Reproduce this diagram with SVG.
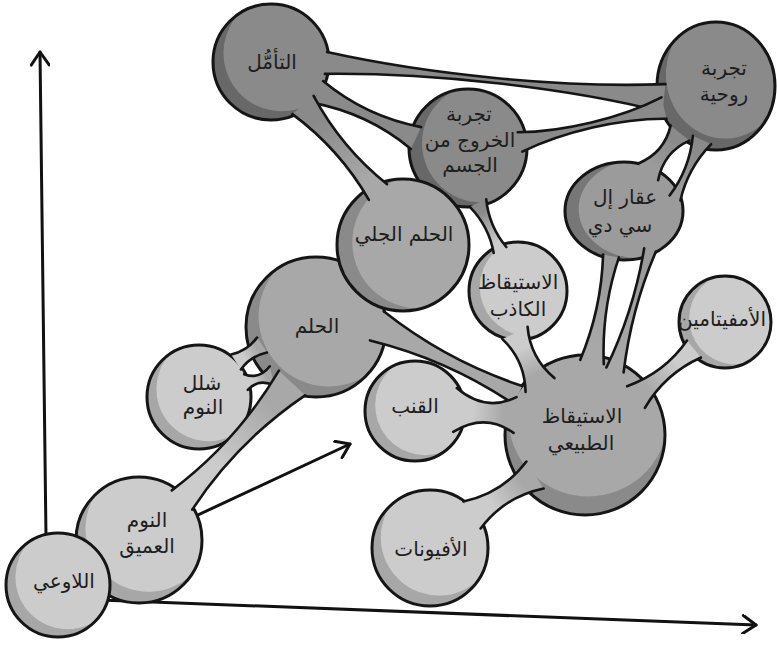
<svg xmlns="http://www.w3.org/2000/svg" width="777" height="646" viewBox="0 0 777 646">
<style>
.ol{fill:none;stroke:#151515;stroke-width:3}
.D .f{fill:#8a8a8a}.D .s{fill:#686868}
.X .f{fill:#9b9b9b}.X .s{fill:#777777}
.M .f{fill:#a8a8a8}.M .s{fill:#8a8a8a}
.L .f{fill:#cccccc}.L .s{fill:#a7a7a7}
text{font-family:"DejaVu Sans",sans-serif;font-size:20px;fill:#1e1e1e;text-anchor:middle}
.side{fill:none;stroke:#151515;stroke-width:2.6;stroke-linecap:round}
.axis{fill:none;stroke:#111111;stroke-width:3;stroke-linecap:round}
.cd{fill:#8a8a8a}.cm{fill:#a8a8a8}
</style>
<defs>
<path id="cres" d="M-0.23-0.973A1 1 0 1 0 0.45 0.893A1 1 0 0 1-0.23-0.973Z"/>
<marker id="chev" viewBox="0 0 20 20" refX="17" refY="10" markerWidth="20" markerHeight="20" markerUnits="userSpaceOnUse" orient="auto"><path d="M4,1 L17,10 L4,19" fill="none" stroke="#111111" stroke-width="3" stroke-linecap="round" stroke-linejoin="round"/></marker>
<linearGradient id="gDM"><stop offset="0.2" stop-color="#8a8a8a"/><stop offset="0.85" stop-color="#a8a8a8"/></linearGradient>
<linearGradient id="gDL"><stop offset="0.2" stop-color="#8a8a8a"/><stop offset="0.85" stop-color="#cccccc"/></linearGradient>
<linearGradient id="gDX"><stop offset="0.2" stop-color="#8a8a8a"/><stop offset="0.85" stop-color="#9b9b9b"/></linearGradient>
<linearGradient id="gXM"><stop offset="0.2" stop-color="#9b9b9b"/><stop offset="0.85" stop-color="#a8a8a8"/></linearGradient>
<linearGradient id="gLM"><stop offset="0.3" stop-color="#cccccc"/><stop offset="0.8" stop-color="#a8a8a8"/></linearGradient>
<linearGradient id="g4" href="#gDM" gradientUnits="userSpaceOnUse" x1="303" y1="105" x2="378" y2="192"/>
<linearGradient id="g5" href="#gDL" gradientUnits="userSpaceOnUse" x1="478" y1="203" x2="500" y2="250"/>
<linearGradient id="g6" href="#gDX" gradientUnits="userSpaceOnUse" x1="680" y1="133" x2="648" y2="172"/>
<linearGradient id="g7" href="#gDX" gradientUnits="userSpaceOnUse" x1="702" y1="140" x2="675" y2="198"/>
<linearGradient id="g8" href="#gXM" gradientUnits="userSpaceOnUse" x1="611" y1="256" x2="592" y2="362"/>
<linearGradient id="g9" href="#gXM" gradientUnits="userSpaceOnUse" x1="650" y1="250" x2="615" y2="370"/>
<linearGradient id="g10" href="#gLM" gradientUnits="userSpaceOnUse" x1="515" y1="333" x2="540" y2="385"/>
<linearGradient id="g12" href="#gLM" gradientUnits="userSpaceOnUse" x1="455" y1="410" x2="515" y2="415"/>
<linearGradient id="g13" href="#gLM" gradientUnits="userSpaceOnUse" x1="694" y1="349" x2="636" y2="397"/>
<linearGradient id="g14" href="#gLM" gradientUnits="userSpaceOnUse" x1="472" y1="515" x2="535" y2="475"/>
<linearGradient id="g15a" href="#gLM" gradientUnits="userSpaceOnUse" x1="236" y1="362" x2="262" y2="345"/>
<linearGradient id="g15b" href="#gLM" gradientUnits="userSpaceOnUse" x1="246" y1="382" x2="272" y2="376"/>
<linearGradient id="g16" href="#gLM" gradientUnits="userSpaceOnUse" x1="182" y1="500" x2="292" y2="383"/>
</defs>
<rect width="777" height="646" fill="#ffffff"/>
<g id="axes">
<path class="axis" marker-end="url(#chev)" d="M46,537 L40,52"/>
<path class="axis" marker-end="url(#chev)" d="M100,600 Q420,611 756,625"/>
<path class="axis" marker-end="url(#chev)" d="M185,521 L350,444"/>
</g>
<g id="n-taammul" class="D">
<circle class="f" cx="271" cy="62" r="58"/>
<use href="#cres" class="s" transform="translate(271 62) scale(58) rotate(-20)"/>
<circle class="ol" cx="271" cy="62" r="58"/>
<text x="272" y="69">التأمُّل</text>
</g>
<g id="n-ruhiya" class="D">
<ellipse class="f" cx="716" cy="86" rx="59" ry="64"/>
<use href="#cres" class="s" transform="translate(716 86) scale(59 64) rotate(-30)"/>
<ellipse class="ol" cx="716" cy="86" rx="59" ry="64"/>
<text x="724" y="75">تجربة</text>
<text x="724" y="101">روحية</text>
</g>
<g id="n-khuruj" class="D">
<circle class="f" cx="468" cy="148" r="59"/>
<use href="#cres" class="s" transform="translate(468 148) scale(59) rotate(0)"/>
<circle class="ol" cx="468" cy="148" r="59"/>
<text x="469" y="121">تجربة</text>
<text x="470" y="147">الخروج من</text>
<text x="470" y="172">الجسم</text>
</g>
<g id="n-lsd" class="X">
<ellipse class="f" cx="624" cy="211" rx="59" ry="49"/>
<use href="#cres" class="s" transform="translate(624 211) scale(59 49) rotate(10)"/>
<ellipse class="ol" cx="624" cy="211" rx="59" ry="49"/>
<text x="625" y="204">عقار إل</text>
<text x="620" y="232">سي دي</text>
</g>
<g id="n-hulm" class="M">
<circle class="f" cx="316" cy="327" r="70"/>
<use href="#cres" class="s" transform="translate(316 327) scale(70) rotate(-20)"/>
<circle class="ol" cx="316" cy="327" r="70"/>
<text x="317" y="333">الحلم</text>
</g>
<g id="n-jali" class="M">
<circle class="f" cx="403" cy="245" r="66"/>
<use href="#cres" class="s" transform="translate(403 245) scale(66) rotate(10)"/>
<circle class="ol" cx="403" cy="245" r="66"/>
<text x="404" y="241">الحلم الجلي</text>
</g>
<g id="n-kadhib" class="L">
<circle class="f" cx="518" cy="291" r="49"/>
<use href="#cres" class="s" transform="translate(518 291) scale(49) rotate(0)"/>
<circle class="ol" cx="518" cy="291" r="49"/>
<text x="518" y="289">الاستيقاظ</text>
<text x="518" y="316">الكاذب</text>
</g>
<g id="n-shalal" class="L">
<circle class="f" cx="199" cy="397" r="52"/>
<use href="#cres" class="s" transform="translate(199 397) scale(52) rotate(-20)"/>
<circle class="ol" cx="199" cy="397" r="52"/>
<text x="202" y="390">شلل</text>
<text x="203" y="414">النوم</text>
</g>
<g id="n-qinnab" class="L">
<circle class="f" cx="415" cy="411" r="50"/>
<use href="#cres" class="s" transform="translate(415 411) scale(50) rotate(-10)"/>
<circle class="ol" cx="415" cy="411" r="50"/>
<text x="415" y="413">القنب</text>
</g>
<g id="n-tabii" class="M">
<circle class="f" cx="585" cy="435" r="80"/>
<use href="#cres" class="s" transform="translate(585 435) scale(80) rotate(-60)"/>
<circle class="ol" cx="585" cy="435" r="80"/>
<text x="582" y="423">الاستيقاظ</text>
<text x="581" y="450">الطبيعي</text>
</g>
<g id="n-amfi" class="L">
<circle class="f" cx="725" cy="322" r="46"/>
<use href="#cres" class="s" transform="translate(725 322) scale(46) rotate(0)"/>
<circle class="ol" cx="725" cy="322" r="46"/>
<text x="722" y="326">الأمفيتامين</text>
</g>
<g id="n-afyun" class="L">
<circle class="f" cx="430" cy="548" r="58"/>
<use href="#cres" class="s" transform="translate(430 548) scale(58) rotate(-30)"/>
<circle class="ol" cx="430" cy="548" r="58"/>
<text x="431" y="556">الأفيونات</text>
</g>
<g id="n-amiq" class="L">
<circle class="f" cx="139" cy="540" r="63"/>
<use href="#cres" class="s" transform="translate(139 540) scale(63) rotate(-30)"/>
<circle class="ol" cx="139" cy="540" r="63"/>
<text x="147" y="527">النوم</text>
<text x="147" y="553">العميق</text>
</g>
<g id="n-lawai" class="L">
<circle class="f" cx="58" cy="585" r="52"/>
<use href="#cres" class="s" transform="translate(58 585) scale(52) rotate(-20)"/>
<circle class="ol" cx="58" cy="585" r="52"/>
<text x="64" y="588">اللاوعي</text>
</g>
<g id="connectors">
<g id="c-taammul-ruhiya"><path class="cd" d="M324.9,73.9 C427.5,72.7 562.7,86.7 662.6,111.9 L665.4,84.1 C562.5,88.3 427.3,74.3 327.1,52.1 Z"/><path class="side" d="M324.9,73.9 C427.5,72.7 562.7,86.7 662.6,111.9 M665.4,84.1 C562.5,88.3 427.3,74.3 327.1,52.1"/></g>
<g id="c-khuruj-ruhiya"><path class="cd" d="M522.3,151.7 C563.2,131.8 620.8,118.2 666.5,118.7 L661.5,97.3 C620.8,118.2 563.2,131.8 517.7,132.3 Z"/><path class="side" d="M522.3,151.7 C563.2,131.8 620.8,118.2 666.5,118.7 M661.5,97.3 C620.8,118.2 563.2,131.8 517.7,132.3"/></g>
<g id="c-taammul-khuruj"><path class="cd" d="M312.9,102.9 Q367.85,113.2 410.9,148.9 L421.1,127.1 Q366.15,116.8 323.1,81.1 Z"/><path class="side" d="M312.9,102.9 Q367.85,113.2 410.9,148.9 M421.1,127.1 Q366.15,116.8 323.1,81.1"/></g>
<g id="c-taammul-jali"><path fill="url(#g4)" d="M292.4,114.1 Q339.7,149.2 368.9,199.8 L387.1,184.2 Q341.3,147.8 313.6,95.9 Z"/><path class="side" d="M292.4,114.1 Q339.7,149.2 368.9,199.8 M387.1,184.2 Q341.3,147.8 313.6,95.9"/></g>
<g id="c-khuruj-kadhib"><path fill="url(#g5)" d="M469.8,206.8 Q489,226.5 493.7,253 L506.3,247 Q489,226.5 486.2,199.2 Z"/><path class="side" d="M469.8,206.8 Q489,226.5 493.7,253 M506.3,247 Q489,226.5 486.2,199.2"/></g>
<g id="c-ruhiya-lsd-1"><path fill="url(#g6)" d="M670.7,125.4 Q664.4,152.8 637.9,163.7 L658.1,180.3 Q663.6,152.2 689.3,140.6 Z"/><path class="side" d="M670.7,125.4 Q664.4,152.8 637.9,163.7 M658.1,180.3 Q663.6,152.2 689.3,140.6"/></g>
<g id="c-ruhiya-lsd-2"><path fill="url(#g7)" d="M692.9,135.8 Q689.4,169.4 669.6,195.5 L680.4,200.5 Q687.6,168.6 711.1,144.2 Z"/><path class="side" d="M692.9,135.8 Q689.4,169.4 669.6,195.5 M680.4,200.5 Q687.6,168.6 711.1,144.2"/></g>
<g id="c-lsd-tabii-1"><path fill="url(#g8)" d="M603.1,254.6 Q601.5,309 580.2,359.9 L603.8,364.1 Q601.5,309 618.9,257.4 Z"/><path class="side" d="M603.1,254.6 Q601.5,309 580.2,359.9 M603.8,364.1 Q601.5,309 618.9,257.4"/></g>
<g id="c-lsd-tabii-2"><path fill="url(#g9)" d="M644.2,248.3 Q633.9,310.4 606.4,367.5 L623.6,372.5 Q631.1,309.6 655.8,251.7 Z"/><path class="side" d="M644.2,248.3 Q633.9,310.4 606.4,367.5 M623.6,372.5 Q631.1,309.6 655.8,251.7"/></g>
<g id="c-kadhib-tabii"><path fill="url(#g10)" d="M502.4,339.1 Q524.8,360.3 525.6,391.9 L554.4,378.1 Q530.2,357.7 527.6,326.9 Z"/><path class="side" d="M502.4,339.1 Q524.8,360.3 525.6,391.9 M554.4,378.1 Q530.2,357.7 527.6,326.9"/></g>
<g id="c-hulm-tabii"><path class="cm" d="M370,340.4 Q447.9,359.6 513.6,404 L522.4,386 Q447.1,361.4 384,311.6 Z"/><path class="side" d="M370,340.4 Q447.9,359.6 513.6,404 M522.4,386 Q447.1,361.4 384,311.6"/></g>
<g id="c-qinnab-tabii"><path fill="url(#g12)" d="M453.2,431.9 Q485,412.5 513.5,432.9 L516.5,397.1 Q485,412.5 456.8,388.1 Z"/><path class="side" d="M453.2,431.9 Q485,412.5 513.5,432.9 M516.5,397.1 Q485,412.5 456.8,388.1"/></g>
<g id="c-amfi-tabii"><path fill="url(#g13)" d="M687,340.5 Q664.7,372.6 627.1,386.2 L644.9,407.8 Q665.3,373.4 701,357.5 Z"/><path class="side" d="M687,340.5 Q664.7,372.6 627.1,386.2 M644.9,407.8 Q665.3,373.4 701,357.5"/></g>
<g id="c-afyun-tabii"><path fill="url(#g14)" d="M480.6,528.5 Q504.6,496.7 543.6,488.5 L526.4,461.5 Q502.4,493.3 463.4,501.5 Z"/><path class="side" d="M480.6,528.5 Q504.6,496.7 543.6,488.5 M526.4,461.5 Q502.4,493.3 463.4,501.5"/></g>
<g id="c-shalal-hulm-1"><path fill="url(#g15a)" d="M240.9,369.5 Q250.6,356 266.9,352.5 L257.1,337.5 Q247.4,351 231.1,354.5 Z"/><path class="side" d="M240.9,369.5 Q250.6,356 266.9,352.5 M257.1,337.5 Q247.4,351 231.1,354.5"/></g>
<g id="c-shalal-hulm-2"><path fill="url(#g15b)" d="M247.8,389.8 Q258.8,378 274.3,385.7 L269.8,366.3 Q259.2,380 244.2,374.2 Z"/><path class="side" d="M247.8,389.8 Q258.8,378 274.3,385.7 M269.8,366.3 Q259.2,380 244.2,374.2"/></g>
<g id="c-amiq-hulm"><path fill="url(#g16)" d="M192.2,509.6 Q237,441.5 305.1,395.3 L278.9,370.7 Q237,441.5 171.8,490.4 Z"/><path class="side" d="M192.2,509.6 Q237,441.5 305.1,395.3 M278.9,370.7 Q237,441.5 171.8,490.4"/></g>
</g>
</svg>
